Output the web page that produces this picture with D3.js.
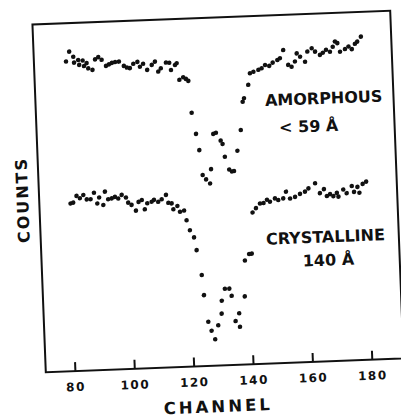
<!DOCTYPE html>
<meta charset="utf-8">
<style>
body { margin: 0; background: #fff; }
svg { display: block; background: #fff; }
.frame { fill: none; stroke: #111; stroke-width: 2px; }
.axis line { stroke: #111; stroke-width: 2px; }
.axis path { display: none; }
.axis text, .label { font-family: "DejaVu Sans", sans-serif; font-weight: bold; fill: #111; }
.dots circle { fill: #111; }
</style>
<svg width="401" height="417"></svg>
<script src="https://d3js.org/d3.v7.min.js"></script>
<script>
// data (counts in arbitrary units, 0-100 over the frame)
var amorphousChannel = [81.0,82.2,83.5,83.7,85.1,85.4,86.6,87.0,87.9,88.4,
  89.8,90.8,91.9,93.0,94.4,95.4,96.4,97.5,98.8,100.4,
  101.4,102.4,103.6,105.0,105.8,106.9,108.2,109.8,110.9,111.9,
  112.8,114.6,115.7,116.2,117.6,118.2,118.9,120.2,121.1,121.9,
  122.6,123.8,124.7,125.5,126.6,127.9,128.4,129.6,130.5,132.0,
  132.6,133.2,134.5,135.4,136.1,137.5,138.9,139.9,140.4,142.0,
  142.7,143.9,145.6,146.7,147.9,149.3,150.5,152.1,153.0,154.2,
  155.7,156.8,158.0,158.7,159.8,161.4,162.3,163.8,164.9,166.5,
  167.5,168.6,169.9,170.9,171.7,172.5,173.3,175.0,176.2,177.3,
  178.4,179.2,180.5];
var amorphousCounts = [89.0,91.8,90.3,88.6,89.3,87.9,89.1,87.5,88.3,86.8,
  86.3,89.3,89.9,89.1,87.3,87.7,88.1,88.3,88.4,87.1,
  86.6,86.4,87.6,88.1,86.7,87.5,85.7,87.1,88.0,85.1,
  86.0,87.6,87.5,85.4,86.8,87.3,82.5,83.2,82.7,82.1,
  72.9,66.8,62.1,54.9,53.6,52.4,56.5,66.6,66.9,64.6,
  63.6,59.9,56.2,55.6,55.7,61.5,67.4,75.5,76.5,80.3,
  83.6,84.0,84.5,84.9,85.8,85.5,86.4,87.1,87.6,89.9,
  85.6,85.0,86.5,88.8,87.8,86.3,89.2,90.1,89.1,88.1,
  88.7,89.5,88.9,90.3,91.8,91.3,88.8,89.5,90.2,89.4,
  90.9,91.5,92.9];

var crystallineChannel = [80.7,81.6,82.8,83.9,85.1,86.2,87.5,88.7,89.7,90.4,
  91.7,92.4,93.4,94.6,95.7,96.8,98.0,99.4,100.1,101.2,
  102.6,103.6,104.7,105.6,106.5,108.0,108.8,110.2,111.4,112.9,
  113.6,114.7,115.2,116.6,117.4,118.8,119.5,120.5,121.8,122.5,
  123.9,124.4,125.5,126.5,127.6,128.8,130.1,130.3,131.5,133.0,
  133.7,134.7,136.0,136.1,138.1,138.6,140.1,141.0,141.8,143.0,
  144.4,145.6,146.8,147.8,149.5,150.6,152.3,153.3,154.6,156.3,
  158.0,159.7,160.9,163.2,164.7,166.1,167.0,168.1,169.2,170.4,
  170.9,172.6,173.7,175.5,176.2,177.4,178.0,179.2,180.4];
var crystallineCounts = [48.2,48.4,50.3,49.6,50.5,49.2,49.2,51.0,47.9,49.6,
  47.4,51.2,49.0,49.2,49.6,49.1,50.1,49.3,47.8,47.1,
  45.4,47.9,48.4,45.7,47.4,47.8,48.3,47.7,48.4,49.6,
  47.3,47.1,45.4,46.3,44.6,44.9,42.1,39.2,37.1,33.4,
  26.2,20.4,12.7,10.1,7.6,11.6,14.9,18.6,22.0,22.0,
  19.9,12.6,14.8,10.9,19.6,29.9,31.7,31.8,43.6,44.8,
  46.1,46.2,47.1,46.5,47.4,46.9,47.3,49.2,47.2,47.6,
  48.4,49.0,49.9,51.3,48.4,49.5,47.5,48.0,47.4,48.3,
  47.2,49.2,48.1,50.1,48.4,49.8,48.1,50.6,51.2];

var channelTicks = [80, 100, 120, 140, 160, 180];

// labels next to the curves: [text, channel, counts]
var curveLabels = [
  ["AMORPHOUS", 167.2, 74.0],
  ["< 59 Å", 161.8, 66.1],
  ["CRYSTALLINE", 166.0, 34.2],
  ["140 Å", 166.7, 27.5]
];

var svg = d3.select("svg"),
    width = 358,
    height = 348;

// the scan is slightly tilted, so the whole plot is turned a little
var g = svg.append("g")
    .attr("transform", "rotate(-2.2,218,191.5) translate(39,17.5)");

var x = d3.scaleLinear().domain([70.2, 190.7]).range([0, width]);
var y = d3.scaleLinear().domain([0, 100]).range([height, 0]);

g.append("rect")
    .attr("class", "frame")
    .attr("width", width)
    .attr("height", height);

g.append("g")
    .attr("class", "axis")
    .attr("transform", "translate(0," + height + ")")
    .call(d3.axisBottom(x)
        .tickValues(channelTicks)
        .tickSizeInner(-9)
        .tickSizeOuter(0)
        .tickPadding(11.5))
    .selectAll("text")
      .attr("font-size", 12)
      .attr("letter-spacing", 1.5);

function series(chan, counts) {
  return chan.map(function(c, i) { return {ch: c, n: counts[i]}; });
}

var allPoints = series(amorphousChannel, amorphousCounts)
    .concat(series(crystallineChannel, crystallineCounts));

g.append("g")
    .attr("class", "dots")
  .selectAll("circle")
  .data(allPoints)
  .enter().append("circle")
    .attr("cx", function(d) { return x(d.ch); })
    .attr("cy", function(d) { return y(d.n); })
    .attr("r", 2.3);

g.selectAll(".curve-label")
  .data(curveLabels)
  .enter().append("text")
    .attr("class", "label curve-label")
    .attr("x", function(d) { return x(d[1]); })
    .attr("y", function(d) { return y(d[2]); })
    .attr("text-anchor", "middle")
    .attr("font-size", 16)
    .text(function(d) { return d[0]; });

g.append("text")
    .attr("class", "label")
    .attr("x", 171)
    .attr("y", 394.5)
    .attr("text-anchor", "middle")
    .attr("font-size", 16.5)
    .attr("letter-spacing", 3)
    .text("CHANNEL");

g.append("text")
    .attr("class", "label")
    .attr("transform", "translate(-11,175) rotate(-90)")
    .attr("text-anchor", "middle")
    .attr("font-size", 16)
    .attr("letter-spacing", 2)
    .text("COUNTS");
</script>
